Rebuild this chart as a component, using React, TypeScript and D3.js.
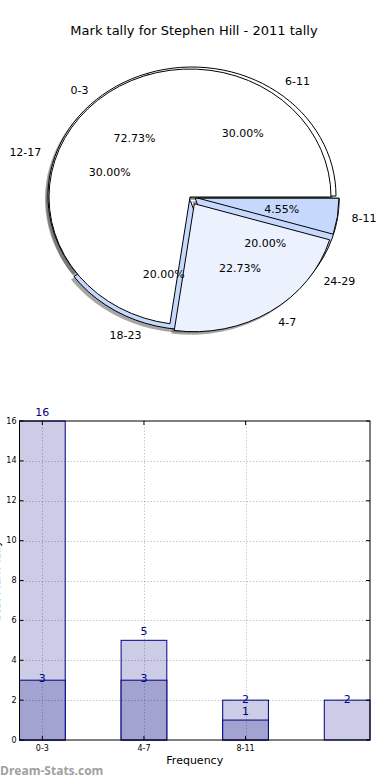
import React from "react";
import * as d3 from "d3";

const title = "Mark tally for Stephen Hill - 2011 tally";

// Pie series 1 (drawn on top)
const pie1Labels = ["0-3", "4-7", "8-11"];
const pie1Values = [16, 5, 1];
// Pie series 2 (drawn underneath)
const pie2Labels = ["6-11", "12-17", "18-23", "24-29"];
const pie2Values = [3, 3, 2, 2];

// Bar chart
const barCategories = ["0-3", "4-7", "8-11", ""];
const barTotals = [16, 5, 2, 2];
const barSubset = [3, 3, 1, 0];
const yTicks = [0, 2, 4, 6, 8, 10, 12, 14, 16];

const FONT = "DejaVu Sans, Verdana, sans-serif";
const TAU = Math.PI * 2;

type PieCfg = {
  labels: string[];
  values: number[];
  cx: number;
  cy: number;
  rx: number;
  ry: number;
  colors: string[];
  explode: number[];
};

const pie1: PieCfg = {
  labels: pie1Labels,
  values: pie1Values,
  cx: 190,
  cy: 197,
  rx: 141,
  ry: 128,
  colors: ["#ffffff", "#ebf1fd", "#c6d9fd"],
  explode: [0, 8, 8],
};
const pie2: PieCfg = {
  labels: pie2Labels,
  values: pie2Values,
  cx: 192,
  cy: 196,
  rx: 144,
  ry: 129,
  colors: ["#ffffff", "#ffffff", "#c6d9fd", "#c6d9fd"],
  explode: [0, 0, 5, 4],
};

function layout(p: PieCfg) {
  const arcs = d3
    .pie<number>()
    .sort(null)
    .startAngle(Math.PI / 2)
    .endAngle(Math.PI / 2 - TAU)(p.values);
  const total = d3.sum(p.values);
  return arcs.map((a, i) => {
    const m = (a.startAngle + a.endAngle) / 2;
    const ux = Math.sin(m);
    const uy = -Math.cos(m);
    const ox = p.explode[i] * ux;
    const oy = p.explode[i] * uy;
    return { a, i, m, ux, uy, ox, oy, pct: (100 * p.values[i]) / total };
  });
}

const arcGen = d3.arc<any>();

function Shadow({ p }: { p: PieCfg }) {
  const items = layout(p);
  return (
    <g>
      {items.map((it) => (
        <g
          key={it.i}
          transform={`translate(${p.cx + it.ox - 3},${p.cy + it.oy + 3}) scale(1,${p.ry / p.rx})`}
        >
          <path
            d={
              arcGen({
                innerRadius: 0,
                outerRadius: p.rx,
                startAngle: it.a.startAngle,
                endAngle: it.a.endAngle,
              }) as string
            }
            fill="#4d4d4d"
            fillOpacity={0.5}
          />
        </g>
      ))}
    </g>
  );
}

function Wedges({ p }: { p: PieCfg }) {
  const items = layout(p);
  return (
    <g>
      {items.map((it) => (
        <g
          key={it.i}
          transform={`translate(${p.cx + it.ox},${p.cy + it.oy}) scale(1,${p.ry / p.rx})`}
        >
          <path
            d={
              arcGen({
                innerRadius: 0,
                outerRadius: p.rx,
                startAngle: it.a.startAngle,
                endAngle: it.a.endAngle,
              }) as string
            }
            fill={p.colors[it.i]}
            stroke="#000"
            strokeWidth={1}
            strokeLinejoin="miter"
            vectorEffect="non-scaling-stroke"
          />
        </g>
      ))}
    </g>
  );
}

function PieLabels({ p }: { p: PieCfg }) {
  const items = layout(p);
  return (
    <g fontFamily={FONT} fontSize={11} fill="#000">
      {items.map((it) => {
        const lx = p.cx + it.ox + 1.1 * p.rx * it.ux;
        const ly = p.cy + it.oy + 1.1 * p.ry * it.uy;
        const px = p.cx + it.ox + 0.6 * p.rx * it.ux;
        const py = p.cy + it.oy + 0.6 * p.ry * it.uy;
        return (
          <g key={it.i}>
            <text
              x={lx}
              y={ly}
              textAnchor={it.ux >= 0 ? "start" : "end"}
              dominantBaseline="central"
            >
              {p.labels[it.i]}
            </text>
            <text x={px} y={py} textAnchor="middle" dominantBaseline="central">
              {it.pct.toFixed(2) + "%"}
            </text>
          </g>
        );
      })}
    </g>
  );
}

function BarChart() {
  const left = 19.5;
  const right = 370;
  const top = 421;
  const bottom = 740;
  const barW = 0.45;
  const x = d3
    .scaleLinear()
    .domain([-barW / 2, barCategories.length - 1 + barW / 2])
    .range([left, right]);
  const y = d3.scaleLinear().domain([0, 16]).range([bottom, top]);
  const labeledIdx = barCategories
    .map((c, i) => (c ? i : -1))
    .filter((i) => i >= 0);
  const lightLabelY = (v: number) => y(v + (v > 2 ? 0.45 : 0.05));
  const darkLabelY = (v: number) => y(v + (v < 2 ? 0.45 : 0.1));
  return (
    <g fontFamily={FONT}>
      {barTotals.map((v, i) => (
        <rect
          key={"t" + i}
          x={x(i - barW / 2)}
          y={y(v)}
          width={x(barW) - x(0)}
          height={y(0) - y(v)}
          fill="#ccccE6"
          stroke="#000080"
          strokeWidth={1}
        />
      ))}
      {barSubset.map((v, i) =>
        v > 0 ? (
          <rect
            key={"s" + i}
            x={x(i - barW / 2)}
            y={y(v)}
            width={x(barW) - x(0)}
            height={y(0) - y(v)}
            fill="#a3a3d1"
            stroke="#000080"
            strokeWidth={1}
          />
        ) : null
      )}
      <g stroke="#000" strokeOpacity={0.25} strokeWidth={1} strokeDasharray="1.2,2">
        {yTicks.slice(1, -1).map((t) => (
          <line key={"gy" + t} x1={left} x2={right} y1={Math.round(y(t)) + 0.5} y2={Math.round(y(t)) + 0.5} />
        ))}
        {labeledIdx.map((i) => (
          <line key={"gx" + i} x1={Math.round(x(i)) + 0.5} x2={Math.round(x(i)) + 0.5} y1={top} y2={bottom} />
        ))}
      </g>
      <rect x={left} y={top} width={right - left} height={bottom - top} fill="none" stroke="#000" strokeWidth={1} />
      <g stroke="#000" strokeWidth={1}>
        {yTicks.map((t) => (
          <g key={"ty" + t}>
            <line x1={left} x2={left + 4} y1={y(t)} y2={y(t)} />
            <line x1={right - 4} x2={right} y1={y(t)} y2={y(t)} />
          </g>
        ))}
        {labeledIdx.map((i) => (
          <g key={"tx" + i}>
            <line x1={x(i)} x2={x(i)} y1={bottom} y2={bottom - 4} />
            <line x1={x(i)} x2={x(i)} y1={top} y2={top + 4} />
          </g>
        ))}
      </g>
      <g fontSize={8} fill="#000">
        {yTicks.map((t) => (
          <text key={"ly" + t} x={left - 3} y={y(t)} textAnchor="end" dominantBaseline="central">
            {t}
          </text>
        ))}
        {labeledIdx.map((i) => (
          <text key={"lx" + i} x={x(i)} y={bottom + 8} textAnchor="middle" dominantBaseline="central">
            {barCategories[i]}
          </text>
        ))}
      </g>
      <g fontSize={11} fill="#000080" textAnchor="middle">
        {barTotals.map((v, i) => (
          <text key={"vt" + i} x={x(i)} y={lightLabelY(v)} dominantBaseline="central">
            {v}
          </text>
        ))}
        {barSubset.map((v, i) =>
          v > 0 ? (
            <text key={"vs" + i} x={x(i)} y={darkLabelY(v)} dominantBaseline="central">
              {v}
            </text>
          ) : null
        )}
      </g>
      <text x={(left + right) / 2} y={760} fontSize={11} textAnchor="middle" dominantBaseline="central" fill="#000">
        Frequency
      </text>
      <text
        transform={`translate(-4,${(top + bottom) / 2}) rotate(-90)`}
        fontSize={11}
        textAnchor="middle"
        dominantBaseline="central"
        fill="#000"
      >
        Stat Mark Tally
      </text>
    </g>
  );
}

export default function App() {
  return (
    <svg
      width={390}
      height={780}
      style={{ position: "absolute", left: 0, top: 0, background: "#fff" }}
    >
      <rect x={0} y={0} width={390} height={780} fill="#fff" />
      <text x={194} y={30} textAnchor="middle" dominantBaseline="central" fontFamily={FONT} fontSize={13} fill="#000">
        {title}
      </text>
      <Shadow p={pie2} />
      <Shadow p={pie1} />
      <Wedges p={pie2} />
      <Wedges p={pie1} />
      <PieLabels p={pie2} />
      <PieLabels p={pie1} />
      <BarChart />
      <text x={0} y={770} fontFamily="Open Sans, DejaVu Sans, sans-serif" fontSize={12} fontWeight="bold" fill="#a0a0a0" dominantBaseline="central">
        Dream-Stats.com
      </text>
    </svg>
  );
}
